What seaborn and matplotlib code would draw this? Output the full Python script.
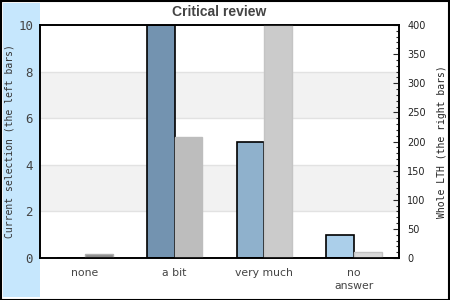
import matplotlib
matplotlib.use("Agg")
import matplotlib.pyplot as plt
from matplotlib.patches import Rectangle
from matplotlib.ticker import MultipleLocator
import numpy as np
import pandas as pd
import seaborn as sns

categories = ["none", "a bit", "very much", "no\nanswer"]
left_values = [0, 10, 5, 1]          # Current selection (left axis)
right_values = [7, 208, 400, 11]     # Whole LTH (right axis)
left_colors = ["#5f7f99", "#7393b0", "#8fb1cc", "#abcfea"]
right_colors = ["#8c8c8c", "#bdbdbd", "#cbcbcb", "#d9d9d9"]
right_edges = ["#b0b0b0", "#bdbdbd", "#c4c4c4", "#c2c2c2"]
title = "Critical review"
left_label = "Current selection (the left bars)"
right_label = "Whole LTH (the right bars)"

sns.set_style("white")
plt.rcParams["font.family"] = ["DejaVu Sans"]

n = len(categories)
df_left = pd.DataFrame({
    "category": categories * 2,
    "series": ["left"] * n + ["right"] * n,
    "value": left_values + [np.nan] * n,
})
df_right = pd.DataFrame({
    "category": categories * 2,
    "series": ["left"] * n + ["right"] * n,
    "value": [np.nan] * n + right_values,
})

W, H = 450, 300
fig = plt.figure(figsize=(4.5, 3), dpi=100)
fig.patch.set_facecolor("white")
fig.patches.append(Rectangle((0.5 / W, 0.5 / H), 1 - 1.5 / W, 1 - 1.5 / H,
                             transform=fig.transFigure, fill=False,
                             edgecolor="black", linewidth=1.5, zorder=-2))
fig.patches.append(Rectangle((3 / W, 3 / H), 37 / W, 294 / H,
                             transform=fig.transFigure, facecolor="#c6e7fd",
                             edgecolor="none", zorder=-2))

ax1 = fig.add_axes([40 / W, 42 / H, 359 / W, 233 / H])
ax1.set_facecolor("white")
ax1.set_ylim(0, 10)
for lo, hi in [(2, 4), (6, 8)]:
    ax1.axhspan(lo, hi, color="#f2f2f2", zorder=0, lw=0)
for y in [2, 4, 6, 8]:
    ax1.axhline(y, color="#e2e2e2", lw=1, zorder=0.5)

sns.barplot(data=df_left, x="category", y="value", hue="series",
            hue_order=["left", "right"], order=categories, dodge=True,
            width=0.62, gap=0, palette=["#7393b0", "#bdbdbd"],
            edgecolor="black", linewidth=1.2, legend=False, ax=ax1, zorder=2)
for p, c in zip(ax1.patches[-n:], left_colors):
    p.set_facecolor(c)

ax2 = ax1.twinx()
sns.barplot(data=df_right, x="category", y="value", hue="series",
            hue_order=["left", "right"], order=categories, dodge=True,
            width=0.62, gap=0, palette=["#7393b0", "#bdbdbd"],
            linewidth=1, legend=False, ax=ax2, zorder=2)
for p, c, e in zip(ax2.patches[-n:], right_colors, right_edges):
    p.set_facecolor(c)
    p.set_edgecolor(e)
ax2.set_ylim(0, 400)
ax1.set_ylim(0, 10)
ax1.set_xlim(-0.5, n - 0.5)

ax1.set_yticks(range(0, 11, 2))
ax1.tick_params(axis="y", length=0, pad=5, labelsize=9, labelcolor="#444444")
for t in ax1.get_yticklabels():
    t.set_family("DejaVu Sans Mono")
ax1.tick_params(axis="x", length=0, pad=7, labelsize=7.8, labelcolor="#444444")
for t in ax1.get_xticklabels():
    t.set_linespacing(1.35)
ax1.set_xlabel("")
ax1.set_ylabel(left_label, family="DejaVu Sans Mono", fontsize=7,
               color="#333333", va="center")
ax1.yaxis.set_label_coords(-30 / 359, 0.5)

ax2.yaxis.set_major_locator(MultipleLocator(50))
ax2.yaxis.set_minor_locator(MultipleLocator(10))
ax2.tick_params(axis="y", which="major", direction="in", length=4, width=0.8,
                labelsize=7, labelcolor="#222222", pad=6)
ax2.tick_params(axis="y", which="minor", direction="in", length=2, width=0.8)
ax2.set_ylabel(right_label, family="DejaVu Sans Mono", fontsize=7,
               color="#222222", labelpad=8)

for ax in (ax1, ax2):
    for s in ax.spines.values():
        s.set_visible(True)
        s.set_color("black")
        s.set_linewidth(1.2)

fig.text(0.5 * (40 + 399) / W, 1 - 12 / H, title, ha="center", va="center",
         family="Liberation Sans", fontweight="bold", fontsize=10,
         color="#444444")

fig.savefig("out.png", dpi=100)
